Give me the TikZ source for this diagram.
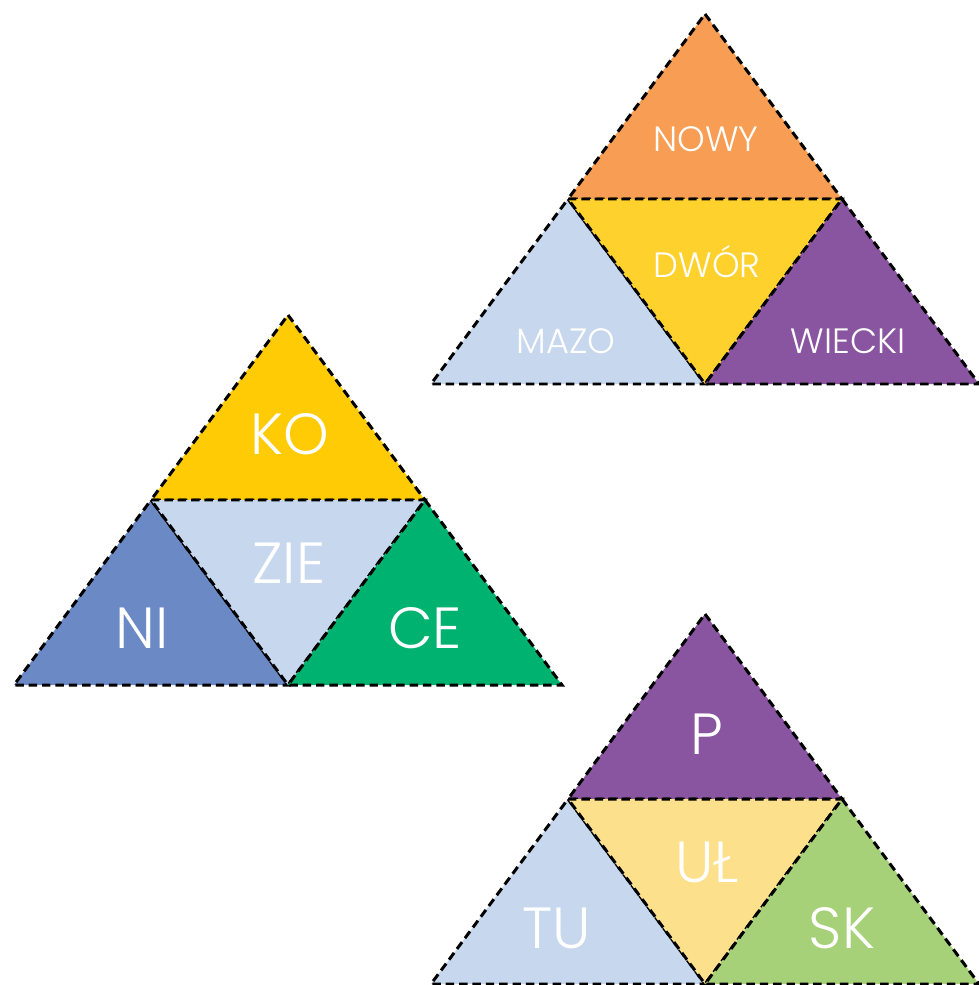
\documentclass[tikz,border=0pt]{standalone}
\usepackage{fontspec}
\setmainfont{Poppins}[UprightFont=* Light]
\usepackage{tikz}
\usetikzlibrary{calc}
\definecolor{pomarancz}{HTML}{F79E54}
\definecolor{zolty}{HTML}{FFD12D}
\definecolor{zloty}{HTML}{FECB05}
\definecolor{jasnozolty}{HTML}{FDE08B}
\definecolor{blekit}{HTML}{C7D7EE}
\definecolor{niebieski}{HTML}{6B8AC5}
\definecolor{fiolet}{HTML}{8A55A0}
\definecolor{zielony}{HTML}{00B26F}
\definecolor{seledyn}{HTML}{A6D178}
\tikzset{
  part/.style  = {draw=black, line width=0.85pt, dash pattern=on 2.4pt off 1.4pt,
                  line join=miter},
  small/.style = {text=white, inner sep=0pt, font=\fontsize{10}{12}\selectfont},
  large/.style = {text=white, inner sep=0pt, font=\fontsize{16.5}{20}\selectfont}
}
% one big triangle made of four small ones
\newcommand\piramida[6]{%
  \begin{scope}[shift={#2}]
    \coordinate (#1-a)  at (0,0);
    \coordinate (#1-l)  at (-274,370);
    \coordinate (#1-r)  at (274,370);
    \coordinate (#1-ml) at (-137,185);
    \coordinate (#1-mr) at (137,185);
    \coordinate (#1-mb) at (0,370);
    \path[part, fill=#3] (#1-a) -- (#1-mr) -- (#1-ml) -- cycle;
    \path[part, fill=#4] (#1-ml) -- (#1-mb) -- (#1-l) -- cycle;
    \path[part, fill=#5] (#1-ml) -- (#1-mr) -- (#1-mb) -- cycle;
    \path[part, fill=#6] (#1-mr) -- (#1-r) -- (#1-mb) -- cycle;
  \end{scope}}

\begin{document}
\begin{tikzpicture}[x=0.01cm, y=-0.01cm]
  \useasboundingbox (0,0) rectangle (979,985);

  \piramida{nowy}{(705,14)}{pomarancz}{blekit}{zolty}{fiolet}
  \piramida{kon}{(288,315)}{zloty}{niebieski}{blekit}{zielony}
  \piramida{pul}{(705,614)}{fiolet}{blekit}{jasnozolty}{seledyn}

  % labels
  \node[small] (nowy)   at (706,139) {NOWY};
  \node[small] (dwor)   at (707,262) {DWÓR};
  \node[small] (mazo)   at (566,341) {MAZO};
  \node[small] (wiecki) at (848,341) {WIECKI};

  \node[large] (ko)  at (290,434) {KO};
  \node[large] (zie) at (289,563) {ZIE};
  \node[large] (ni)  at (142,628) {NI};
  \node[large] (ce)  at (425,628) {CE};

  \node[large] (p)  at (707,734) {P};
  \node[large] (ul) at (707,862) {UŁ};
  \node[large] (tu) at (557,928) {TU};
  \node[large] (sk) at (842,928) {SK};
\end{tikzpicture}
\end{document}
